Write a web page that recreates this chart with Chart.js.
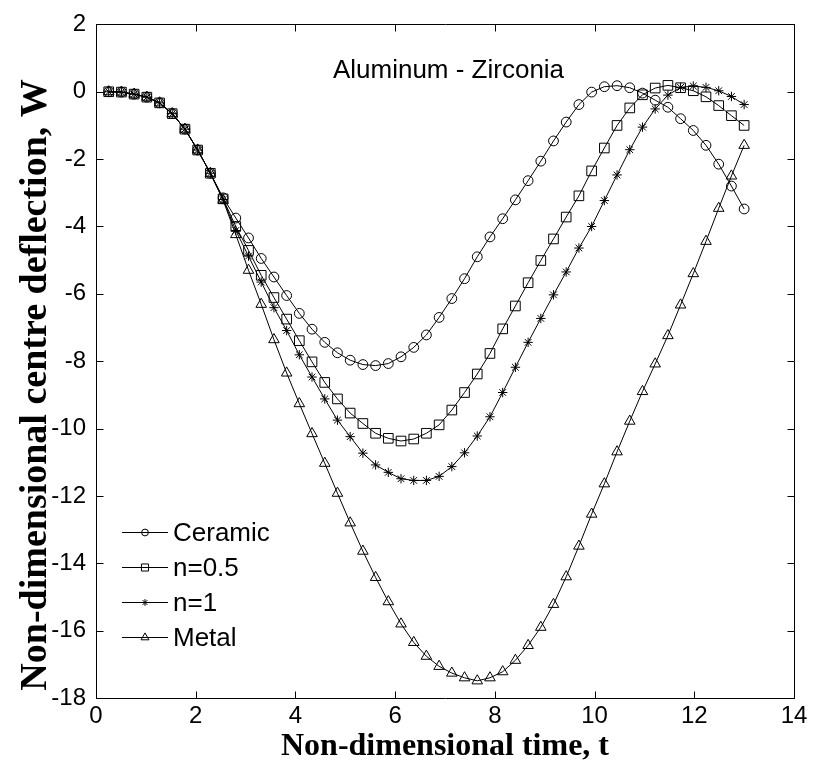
<!DOCTYPE html>
<html><head><meta charset="utf-8">
<script src="https://cdn.jsdelivr.net/npm/chart.js@4.4.1/dist/chart.umd.min.js"></script>
<style>html,body{margin:0;padding:0;background:#fff;}#c{display:block;}</style>
</head><body>
<canvas id="c" width="816" height="772"></canvas>
<script>
// ---- data ----
const time = [0.255, 0.510, 0.765, 1.020, 1.275, 1.529, 1.784, 2.039, 2.294, 2.549,
  2.804, 3.059, 3.314, 3.569, 3.824, 4.078, 4.333, 4.588, 4.843, 5.098,
  5.353, 5.608, 5.863, 6.118, 6.373, 6.627, 6.882, 7.137, 7.392, 7.647,
  7.902, 8.157, 8.412, 8.667, 8.922, 9.176, 9.431, 9.686, 9.941, 10.196,
  10.451, 10.706, 10.961, 11.216, 11.471, 11.725, 11.980, 12.235, 12.490, 12.745, 13.000];
const ceramic = [0, -0.01, -0.07, -0.16, -0.33, -0.65, -1.11, -1.73, -2.42, -3.15,
  -3.75, -4.34, -4.95, -5.50, -6.05, -6.58, -7.05, -7.44, -7.75, -7.97,
  -8.10, -8.13, -8.07, -7.87, -7.59, -7.22, -6.70, -6.14, -5.55, -4.90,
  -4.31, -3.77, -3.21, -2.64, -2.06, -1.46, -0.90, -0.38, -0.01, 0.15,
  0.18, 0.12, -0.04, -0.25, -0.46, -0.80, -1.15, -1.59, -2.15, -2.80, -3.48];
const nHalf = [0, -0.01, -0.07, -0.16, -0.33, -0.65, -1.11, -1.73, -2.42, -3.18,
  -4.00, -4.71, -5.45, -6.11, -6.75, -7.39, -8.02, -8.63, -9.12, -9.54,
  -9.85, -10.14, -10.29, -10.37, -10.31, -10.14, -9.89, -9.45, -8.93, -8.38,
  -7.77, -7.04, -6.36, -5.67, -5.01, -4.37, -3.72, -3.09, -2.35, -1.67,
  -1.00, -0.48, -0.09, 0.11, 0.19, 0.12, 0.03, -0.15, -0.41, -0.71, -1.00];
const nOne = [0, -0.01, -0.07, -0.16, -0.33, -0.65, -1.11, -1.73, -2.42, -3.20,
  -4.12, -4.88, -5.65, -6.41, -7.09, -7.81, -8.47, -9.12, -9.75, -10.24,
  -10.73, -11.08, -11.30, -11.49, -11.54, -11.54, -11.42, -11.13, -10.72, -10.22,
  -9.65, -8.93, -8.18, -7.44, -6.73, -6.03, -5.35, -4.64, -4.00, -3.23,
  -2.47, -1.72, -1.05, -0.51, -0.10, 0.13, 0.17, 0.13, 0.03, -0.14, -0.38];
const metal = [0, -0.01, -0.07, -0.16, -0.33, -0.65, -1.11, -1.73, -2.42, -3.22,
  -4.24, -5.30, -6.31, -7.36, -8.35, -9.26, -10.15, -11.03, -11.92, -12.80,
  -13.64, -14.42, -15.14, -15.80, -16.35, -16.76, -17.06, -17.26, -17.40, -17.49,
  -17.40, -17.22, -16.88, -16.44, -15.90, -15.22, -14.40, -13.49, -12.54, -11.64,
  -10.69, -9.78, -8.90, -8.08, -7.24, -6.33, -5.40, -4.44, -3.46, -2.50, -1.59];
const seriesNames = ['Ceramic', 'n=0.5', 'n=1', 'Metal'];
const xTickValues = [0, 2, 4, 6, 8, 10, 12, 14];
const yTickValues = [2, 0, -2, -4, -6, -8, -10, -12, -14, -16, -18];
const xTitle = 'Non-dimensional time, t';
const yTitle = 'Non-dimensional centre deflection, W     ';
const annotationText = 'Aluminum - Zirconia';
const annotationPos = {x: 7.07, y: 0.63};

// ---- styles ----
const styles = [
  {pointStyle: 'circle', radius: 4.9, legendRadius: 3.4},
  {pointStyle: 'rect', radius: 6.8, legendRadius: 5},
  {pointStyle: 'star', radius: 4.7, legendRadius: 3.4},
  {pointStyle: 'triangle', radius: 6.1, legendRadius: 4.6}
];
const seriesValues = [ceramic, nHalf, nOne, metal];
const toPoints = ys => time.map((t, i) => ({x: t, y: ys[i]}));

const datasets = seriesValues.map((ys, i) => ({
  label: seriesNames[i],
  data: toPoints(ys),
  borderColor: '#000',
  borderWidth: 1,
  pointStyle: styles[i].pointStyle,
  pointRadius: styles[i].radius,
  pointBorderWidth: 1,
  pointBorderColor: '#000',
  pointBackgroundColor: 'rgba(0,0,0,0)',
  tension: 0,
  fill: false
}));

function drawMarker(ctx, style, x, y, r) {
  ctx.beginPath();
  if (style === 'circle') {
    ctx.arc(x, y, r, 0, Math.PI * 2);
  } else if (style === 'rect') {
    const s = r * Math.SQRT1_2;
    ctx.rect(x - s, y - s, 2 * s, 2 * s);
  } else if (style === 'triangle') {
    for (let k = 0; k < 3; k++) {
      const a = k * 2 * Math.PI / 3;
      const px = x + Math.sin(a) * r, py = y - Math.cos(a) * r;
      if (k === 0) ctx.moveTo(px, py); else ctx.lineTo(px, py);
    }
    ctx.closePath();
  } else if (style === 'star') {
    for (let k = 0; k < 4; k++) {
      const a = k * Math.PI / 4;
      ctx.moveTo(x + Math.cos(a) * r, y + Math.sin(a) * r);
      ctx.lineTo(x - Math.cos(a) * r, y - Math.sin(a) * r);
    }
  }
  ctx.stroke();
}

const framePlugin = {
  id: 'frame',
  beforeDatasetsDraw(chart) {
    const {ctx, chartArea: a, scales: {x, y}} = chart;
    ctx.save();
    ctx.strokeStyle = '#000';
    ctx.lineWidth = 1;
    const L = Math.round(a.left) + 0.5, R = Math.round(a.right) + 0.5;
    const T = Math.round(a.top) + 0.5, B = Math.round(a.bottom) + 0.5;
    ctx.beginPath();
    ctx.rect(L, T, R - L, B - T);
    const tl = 7;
    xTickValues.forEach(v => {
      const p = Math.round(x.getPixelForValue(v)) + 0.5;
      ctx.moveTo(p, B); ctx.lineTo(p, B - tl);
      ctx.moveTo(p, T); ctx.lineTo(p, T + tl);
    });
    yTickValues.forEach(v => {
      const p = Math.round(y.getPixelForValue(v)) + 0.5;
      ctx.moveTo(L, p); ctx.lineTo(L + tl, p);
      ctx.moveTo(R, p); ctx.lineTo(R - tl, p);
    });
    ctx.stroke();
    ctx.restore();
  }
};

const overlayPlugin = {
  id: 'overlay',
  afterDatasetsDraw(chart) {
    const {ctx, chartArea: a, scales: {x, y}} = chart;
    ctx.save();
    // annotation text
    ctx.fillStyle = '#000';
    ctx.font = '26px "Liberation Sans", Arial, sans-serif';
    ctx.textAlign = 'center';
    ctx.textBaseline = 'middle';
    ctx.fillText(annotationText, x.getPixelForValue(annotationPos.x), y.getPixelForValue(annotationPos.y));
    // legend (no box)
    const lx0 = a.left + 26, lx1 = a.left + 72, mx = a.left + 49, tx = a.left + 77;
    const rowY0 = a.bottom - 166, rowStep = 35;
    ctx.strokeStyle = '#000';
    ctx.lineWidth = 1;
    ctx.textAlign = 'left';
    ctx.font = '26px "Liberation Sans", Arial, sans-serif';
    seriesNames.forEach((name, i) => {
      const ry = Math.round(rowY0 + i * rowStep) + 0.5;
      ctx.beginPath();
      ctx.moveTo(lx0, ry); ctx.lineTo(lx1, ry);
      ctx.stroke();
      drawMarker(ctx, styles[i].pointStyle, mx, ry, styles[i].legendRadius);
      ctx.fillText(name, tx, ry + 1);
    });
    ctx.restore();
  }
};

new Chart(document.getElementById('c'), {
  type: 'line',
  data: {datasets},
  plugins: [framePlugin, overlayPlugin],
  options: {
    responsive: false,
    animation: false,
    devicePixelRatio: 1,
    layout: {padding: {top: 20, right: 22, bottom: 0, left: 0}},
    plugins: {legend: {display: false}, tooltip: {enabled: false}},
    scales: {
      x: {
        type: 'linear', position: 'bottom', min: 0, max: 14,
        afterBuildTicks: s => { s.ticks = xTickValues.map(v => ({value: v})); },
        afterFit: s => { s.height = 74; },
        grid: {display: false, drawTicks: false},
        border: {display: false},
        ticks: {color: '#000', padding: 4, autoSkip: false, maxRotation: 0,
          font: {family: '"Liberation Sans", Arial, sans-serif', size: 24}},
        title: {display: true, text: xTitle, color: '#000',
          font: {family: '"Liberation Serif", "Times New Roman", serif', size: 32, weight: 'bold', lineHeight: 1},
          padding: {top: 0, bottom: 9}}
      },
      y: {
        type: 'linear', position: 'left', min: -18, max: 2,
        afterBuildTicks: s => { s.ticks = yTickValues.map(v => ({value: v})); },
        afterFit: s => { s.width = 96; },
        grid: {display: false, drawTicks: false},
        border: {display: false},
        ticks: {color: '#000', padding: 10, autoSkip: false,
          font: {family: '"Liberation Sans", Arial, sans-serif', size: 24}},
        title: {display: true, text: yTitle, color: '#000',
          font: {family: '"Liberation Serif", "Times New Roman", serif', size: 38, weight: 'bold', lineHeight: 1},
          padding: {top: 17, bottom: 0}}
      }
    }
  }
});
</script>
</body></html>
